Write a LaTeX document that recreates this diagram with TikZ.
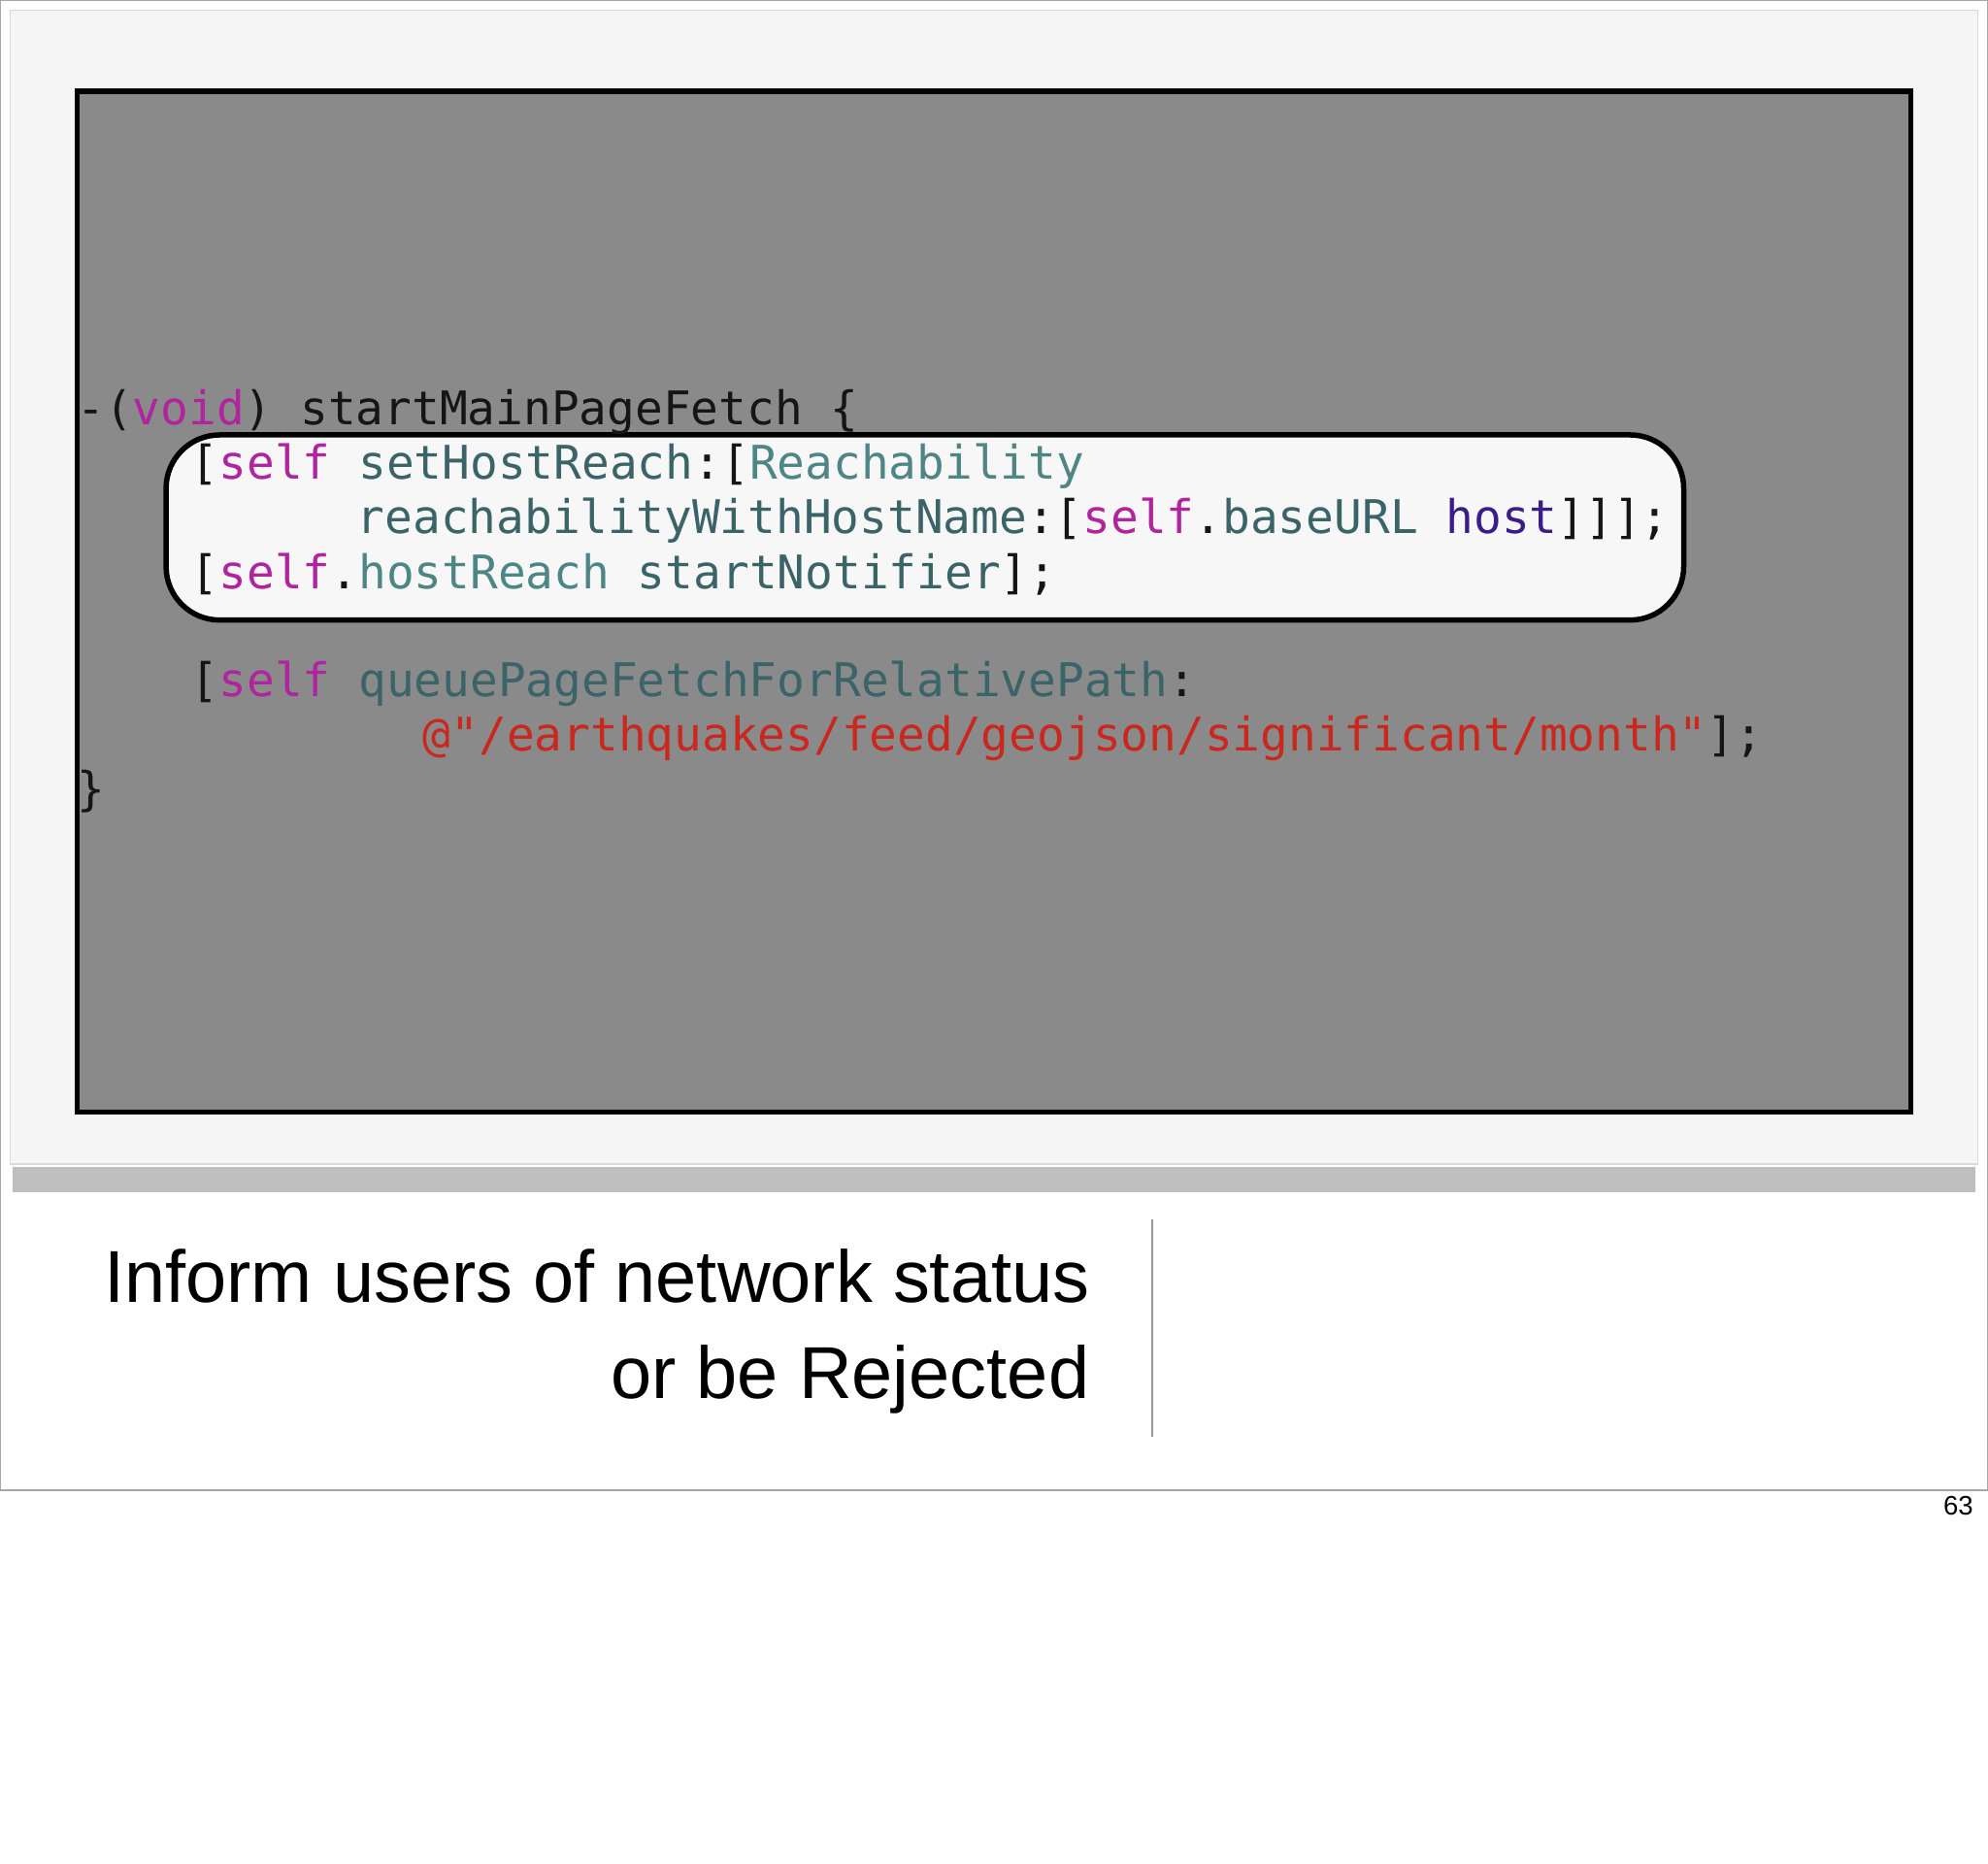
\documentclass[tikz,border=0pt]{standalone}
\usepackage{fontspec}
\setmainfont{Liberation Sans}
\newfontfamily\codefont{DejaVu Sans Mono}
\definecolor{kwcol}{HTML}{B0259D}
\definecolor{fncol}{HTML}{3A6468}
\definecolor{clcol}{HTML}{4E8686}
\definecolor{hscol}{HTML}{3A1D8A}
\definecolor{strcol}{HTML}{C8281E}
\definecolor{txcol}{HTML}{151515}
\newcommand{\kw}[1]{\textcolor{kwcol}{#1}}
\newcommand{\fn}[1]{\textcolor{fncol}{#1}}
\newcommand{\cl}[1]{\textcolor{clcol}{#1}}
\newcommand{\hs}[1]{\textcolor{hscol}{#1}}
\newcommand{\str}[1]{\textcolor{strcol}{#1}}
\begin{document}
\begin{tikzpicture}[x=0.01cm,y=-0.01cm,
    codeline/.style={anchor=base west,inner sep=0pt,font=\codefont\fontsize{10.4}{12}\selectfont,text=txcol},
    caption/.style={anchor=base east,inner sep=0pt,font=\fontsize{16.5}{20}\selectfont,text=black}]
    % Seite
    \useasboundingbox (0,0) rectangle (1568,1470);
    \fill[white] (0,0) rectangle (1568,1470);
    \draw[gray!70] (0,0) rectangle (1568,1175);

    % Folie mit Schatten
    \fill[black!25] (10,920) rectangle (1558,940);
    \fill[black!4] (8,8) rectangle (1560,918);
    \draw[black!15] (8,8) rectangle (1560,918);

    % Codefeld
    \draw[line width=1.2pt,fill=black!46] (61,72) rectangle (1507,877);
    \draw[line width=1.2pt,fill=black!3,rounded corners=12pt] (131,343) rectangle (1328,489);

    % Code
    \node[codeline] (l1) at (60,335) {-(\kw{void}) startMainPageFetch \{};
    \node[codeline] (l2) at (150,378) {[\kw{self} \fn{setHostReach}:[\cl{Reachability}};
    \node[codeline] (l3) at (281,421) {\fn{reachabilityWithHostName}:[\kw{self}.\fn{baseURL} \hs{host}]]];};
    \node[codeline] (l4) at (150,464) {[\kw{self}.\cl{hostReach} \fn{startNotifier}];};
    \node[codeline] (l5) at (150,549) {[\kw{self} \fn{queuePageFetchForRelativePath}:};
    \node[codeline] (l6) at (333,592) {\str{@"/earthquakes/feed/geojson/significant/month"}];};
    \node[codeline] (l7) at (60,635) {\}};

    % Titel
    \node[caption] (cap1) at (860,1027) {Inform users of network status};
    \node[caption] (cap2) at (860,1103) {or be Rejected};
    \draw[black!40] (909,962) -- (909,1133);

    % Seitenzahl
    \node[anchor=base east,inner sep=0pt,font=\fontsize{6}{7}\selectfont] (num) at (1557,1195) {63};
\end{tikzpicture}
\end{document}
